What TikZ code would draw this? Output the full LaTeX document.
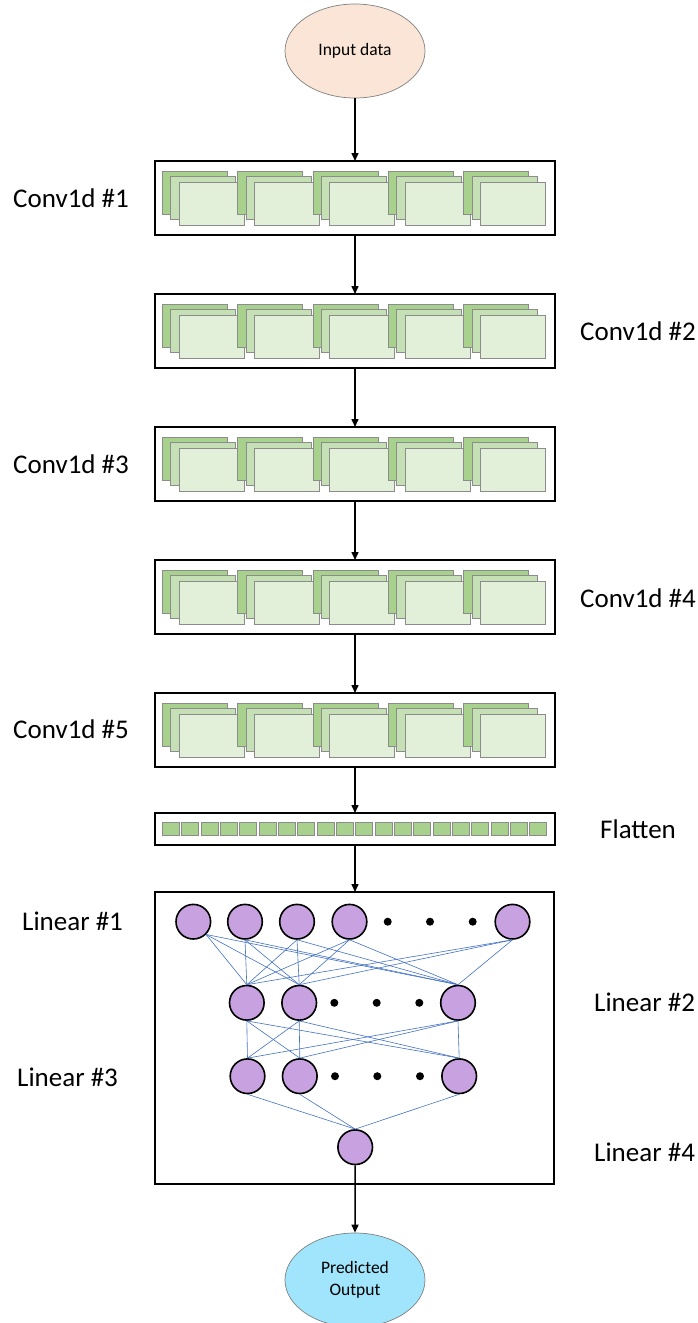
\documentclass[tikz,border=0pt]{standalone}
\usepackage{fontspec}
\setmainfont{Carlito}
\usetikzlibrary{shapes.geometric,arrows.meta}

\definecolor{peach}{HTML}{FBE5D6}
\definecolor{skyfill}{HTML}{A0E5FB}
\definecolor{greenA}{HTML}{A9D18E}
\definecolor{greenB}{HTML}{C5E0B4}
\definecolor{greenC}{HTML}{E2F0D9}
\definecolor{rectedge}{HTML}{8C8C8C}
\definecolor{lilac}{HTML}{C8A2E0}
\definecolor{wire}{HTML}{4472C4}

\tikzset{
  bigbox/.style={draw=black,line width=1.8pt,fill=white},
  featA/.style={draw=rectedge,line width=0.8pt,fill=greenA},
  featB/.style={draw=rectedge,line width=0.8pt,fill=greenB},
  featC/.style={draw=rectedge,line width=0.8pt,fill=greenC},
  cell/.style={draw=rectedge,line width=0.8pt,fill=greenA,minimum width=17pt,minimum height=13pt,inner sep=0pt},
  terminal/.style={ellipse,draw=gray,line width=0.7pt,minimum width=140pt,minimum height=94pt,inner sep=0pt,align=center,font=\fontsize{17.5}{22}\selectfont},
  neuron/.style={circle,draw=black,line width=1.6pt,fill=lilac,minimum size=34.6pt,inner sep=0pt},
  ellip/.style={circle,fill=black,minimum size=8pt,inner sep=0pt},
  lbl/.style={anchor=west,inner sep=0pt,font=\fontsize{27}{32}\selectfont},
  flow/.style={line width=1.5pt,-{Triangle[width=7pt,length=8pt]}},
  link/.style={draw=wire,line width=0.6pt},
}

\begin{document}
\begin{tikzpicture}[x=1pt,y=-1pt]
\useasboundingbox (0,0) rectangle (698,1323);

% input and output terminals
\node[terminal,fill=peach] (input) at (355,51) {Input data};
\node[terminal,fill=skyfill] (pred) at (355,1280) {Predicted\\Output};

% five convolution stages, each with five stacked feature maps
\foreach \i/\top in {1/161,2/294,3/427,4/560,5/693}{
  \draw[bigbox] (155,\top) rectangle (555,\top+74);
  \coordinate (conv\i-n) at (355,\top);
  \coordinate (conv\i-s) at (355,\top+74);
  \foreach \k in {0,...,4}{
    \pgfmathsetmacro{\xa}{162.3+75.3*\k}
    \draw[featA] (\xa,\top+10) rectangle ++(65,43);
    \draw[featB] (\xa+8.4,\top+15.7) rectangle ++(65,43);
    \draw[featC] (\xa+16.7,\top+21.3) rectangle ++(65,43);
  }
}

% flatten stage
\draw[bigbox] (155,813) rectangle (555,845);
\coordinate (flat-n) at (355,813);
\coordinate (flat-s) at (355,845);
\foreach \k in {0,...,19}{
  \node[cell] (cell\k) at (170.8+19.34*\k,828.5) {};
}

% fully connected stage
\draw[bigbox] (155,892) rectangle (554,1184);
\coordinate (lin-n) at (355,892);

\node[neuron] (a1) at (193.3,921.7) {};
\node[neuron] (a2) at (245,921.7) {};
\node[neuron] (a3) at (297,921.7) {};
\node[neuron] (a4) at (349.5,921.7) {};
\node[neuron] (a5) at (512.5,921.7) {};
\node[ellip] (ad1) at (387.7,921.7) {};
\node[ellip] (ad2) at (430,921.7) {};
\node[ellip] (ad3) at (472.7,921.7) {};

\node[neuron] (b1) at (246.8,1002.8) {};
\node[neuron] (b2) at (299.2,1002.8) {};
\node[neuron] (b3) at (458,1002.8) {};
\node[ellip] (bd1) at (334.3,1002.8) {};
\node[ellip] (bd2) at (376.7,1002.8) {};
\node[ellip] (bd3) at (419.3,1002.8) {};

\node[neuron] (c1) at (247.5,1076.2) {};
\node[neuron] (c2) at (299.8,1076.2) {};
\node[neuron] (c3) at (459.2,1076.2) {};
\node[ellip] (cd1) at (335,1076.2) {};
\node[ellip] (cd2) at (377.3,1076.2) {};
\node[ellip] (cd3) at (420,1076.2) {};

\node[neuron] (out) at (355.2,1147.2) {};

% dense connections
\foreach \t in {b1,b2,b3}{
  \draw[link] (a1.-45) -- (\t.north);
  \foreach \s in {a2,a3,a4,a5}{
    \draw[link] (\s.south) -- (\t.north);
  }
}
\foreach \t in {c1,c2,c3}{
  \foreach \s in {b1,b2,b3}{
    \draw[link] (\s.south) -- (\t.north);
  }
}
\foreach \s in {c1,c2,c3}{
  \draw[link] (\s.south) -- (out.north);
}

% data flow
\draw[flow] (input.south) -- (conv1-n);
\draw[flow] (conv1-s) -- (conv2-n);
\draw[flow] (conv2-s) -- (conv3-n);
\draw[flow] (conv3-s) -- (conv4-n);
\draw[flow] (conv4-s) -- (conv5-n);
\draw[flow] (conv5-s) -- (flat-n);
\draw[flow] (flat-s) -- (lin-n);
\draw[flow] (out.south) -- (pred.north);

% stage labels
\node[lbl] (l1) at (13,198) {Conv1d \#1};
\node[lbl] (l2) at (580,331) {Conv1d \#2};
\node[lbl] (l3) at (13,464) {Conv1d \#3};
\node[lbl] (l4) at (580,598) {Conv1d \#4};
\node[lbl] (l5) at (13,729) {Conv1d \#5};
\node[lbl] (l6) at (600,829) {Flatten};
\node[lbl] (l7) at (22,921) {Linear \#1};
\node[lbl] (l8) at (594,1002) {Linear \#2};
\node[lbl] (l9) at (17,1077) {Linear \#3};
\node[lbl] (l10) at (594,1152) {Linear \#4};
\end{tikzpicture}
\end{document}
